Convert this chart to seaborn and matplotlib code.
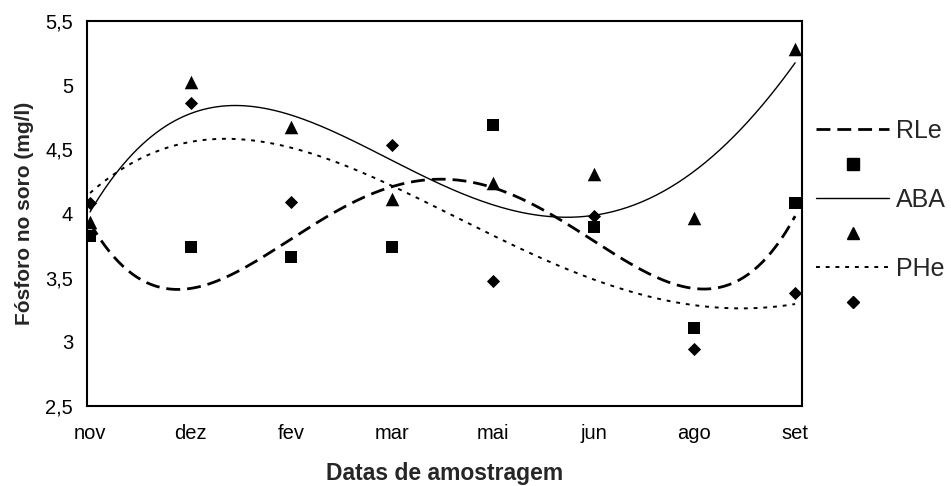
import numpy as np
import pandas as pd
import matplotlib
matplotlib.use("Agg")
import matplotlib.pyplot as plt
import seaborn as sns
from matplotlib.lines import Line2D

meses = ["nov", "dez", "fev", "mar", "mai", "jun", "ago", "set"]
rle = [3.82, 3.74, 3.66, 3.74, 4.69, 3.89, 3.11, 4.08]
aba = [3.93, 5.02, 4.67, 4.11, 4.24, 4.31, 3.96, 5.28]
phe = [4.08, 4.86, 4.09, 4.53, 3.47, 3.98, 2.94, 3.38]
y_ticks = [2.5, 3, 3.5, 4, 4.5, 5, 5.5]
y_tick_labels = ["2,5", "3", "3,5", "4", "4,5", "5", "5,5"]

sns.set_style("white")
plt.rcParams["font.family"] = ["Liberation Sans", "DejaVu Sans"]

df = pd.DataFrame({"pos": np.arange(len(meses)), "RLe": rle, "ABA": aba, "PHe": phe})

fig = plt.figure(figsize=(9.51, 4.86), dpi=100)
ax = fig.add_axes([0.0915, 0.165, 0.752, 0.792])

# trend lines (polynomial, like Excel)
xs = np.linspace(0, len(meses) - 1, 300)
estilos = {
    "RLe": dict(linestyle=(0, (5, 2.5)), linewidth=2.0),
    "ABA": dict(linestyle="-", linewidth=1.0),
    "PHe": dict(linestyle=(0, (2, 3)), linewidth=1.4),
}
for nome in ["RLe", "ABA", "PHe"]:
    coef = np.polyfit(df["pos"], df[nome], 4)
    sns.lineplot(x=xs, y=np.polyval(coef, xs), ax=ax, color="black", **estilos[nome])

marcadores = {"RLe": ("s", 75), "ABA": ("^", 95), "PHe": ("D", 45)}
for nome, (m, s) in marcadores.items():
    sns.scatterplot(data=df, x="pos", y=nome, marker=m, s=s, color="black",
                    edgecolor="black", linewidth=0, ax=ax)

ax.set_xlim(-0.03, 7.07)
ax.set_ylim(2.5, 5.5)
ax.set_xticks(df["pos"])
ax.set_xticklabels(meses)
ax.set_yticks(y_ticks)
ax.set_yticklabels(y_tick_labels)
ax.tick_params(axis="both", direction="inout", length=10, width=1.2,
               labelsize=14.5, colors="black", pad=5)
ax.tick_params(axis="x", pad=8)
for sp in ax.spines.values():
    sp.set_linewidth(1.5)
    sp.set_color("black")

ax.set_xlabel("Datas de amostragem", fontsize=16.5, fontweight="bold", labelpad=14)
ax.set_ylabel("Fósforo no soro (mg/l)", fontsize=15, fontweight="bold", labelpad=8)

handles = [
    Line2D([], [], color="black", **estilos["RLe"]),
    Line2D([], [], color="black", marker="s", linestyle="none", markersize=8.5),
    Line2D([], [], color="black", **estilos["ABA"]),
    Line2D([], [], color="black", marker="^", linestyle="none", markersize=9),
    Line2D([], [], color="black", **estilos["PHe"]),
    Line2D([], [], color="black", marker="D", linestyle="none", markersize=6.5),
]
labels = ["RLe", "", "ABA", "", "PHe", ""]
fig.legend(handles, labels, loc="upper left", bbox_to_anchor=(0.848, 0.776),
           frameon=False, fontsize=18, handlelength=2.9, handletextpad=0.3,
           labelspacing=0.42, borderaxespad=0)

fig.savefig("out.png", dpi=100)
